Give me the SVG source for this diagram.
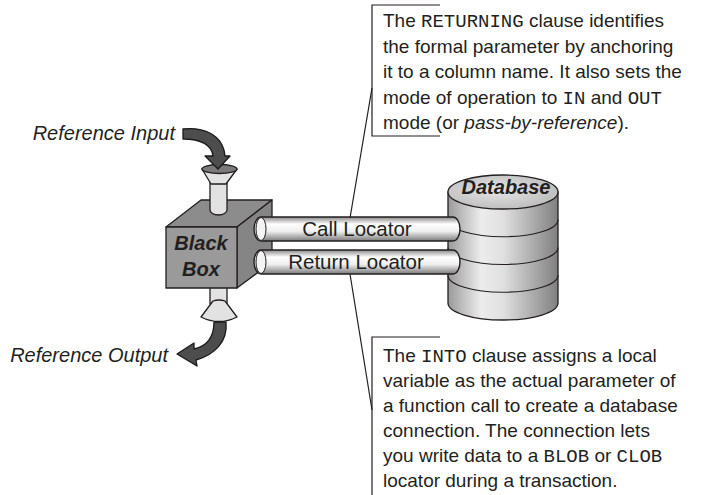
<svg xmlns="http://www.w3.org/2000/svg" width="708" height="495" viewBox="0 0 708 495">
  <defs>
    <linearGradient id="pipeGrad" x1="0" y1="0" x2="0" y2="1">
      <stop offset="0" stop-color="#8a8a8a"/>
      <stop offset="0.3" stop-color="#ffffff"/>
      <stop offset="0.6" stop-color="#eeeeee"/>
      <stop offset="1" stop-color="#7a7a7a"/>
    </linearGradient>
    <linearGradient id="drumGrad" x1="0" y1="0" x2="1" y2="0">
      <stop offset="0" stop-color="#9a9a9a"/>
      <stop offset="0.3" stop-color="#ececec"/>
      <stop offset="0.5" stop-color="#e0e0e0"/>
      <stop offset="1" stop-color="#808080"/>
    </linearGradient>
    <radialGradient id="lidGrad" cx="0.45" cy="0.45" r="0.7">
      <stop offset="0" stop-color="#e6e6e6"/>
      <stop offset="1" stop-color="#b4b4b4"/>
    </radialGradient>
  </defs>
  <style>
    .lbl { font-family: "Liberation Sans", Arial, sans-serif; fill: #231f20; }
    .it { font-style: italic; }
    .bi { font-style: italic; font-weight: bold; }
    .mono { font-family: "Liberation Mono", "Courier New", monospace; }
    .edge { fill: none; stroke: #231f20; stroke-width: 1.2; }
    .ol { stroke: #231f20; stroke-width: 1.3; stroke-linejoin: round; }
    .arrow { fill: #4d4d4d; stroke: #1a1a1a; stroke-width: 1.3; stroke-linejoin: round; }
    .pipe { fill: url(#pipeGrad); stroke: #231f20; stroke-width: 1.4; }
  </style>

  <!-- Black box with its input funnel and output bell -->
  <g id="blackbox">
    <!-- output stem below the cube -->
    <rect class="ol" x="210" y="286" width="17" height="18" fill="#e2e2e2"/>
    <!-- cube faces -->
    <polygon class="ol" points="166,227 201,200 272,200 237,227" fill="#8c8c8c"/>
    <polygon class="ol" points="237,227 272,200 272,262 237,288" fill="#858585"/>
    <rect class="ol" x="166" y="227" width="71" height="61" fill="#9a9a9a"/>
    <text class="lbl bi" x="201" y="250" font-size="20" text-anchor="middle">Black</text>
    <text class="lbl bi" x="201" y="276" font-size="20" text-anchor="middle">Box</text>
    <!-- input stem entering the top face -->
    <path class="ol" d="M210,180 L210,210 A8.5,5 0 0 0 227,210 L227,180 Z" fill="#e2e2e2"/>
    <!-- input funnel -->
    <path class="ol" d="M202,169 L211,184 L226,184 L237,169 Z" fill="#e2e2e2"/>
    <ellipse class="ol" cx="219.5" cy="169" rx="17.5" ry="4.5" fill="#7a7a7a"/>
    <!-- output bell -->
    <path class="ol" d="M213,301 Q219,299 225,301 L237,317 Q219,326 201,317 Z" fill="#e2e2e2"/>
  </g>

  <!-- Input / output labels with curved arrows -->
  <g id="reference-input">
    <text class="lbl it" x="175" y="140" font-size="20" text-anchor="end">Reference Input</text>
    <path class="arrow" d="M183,129 C203,127 223,134 225,156 L230,156 L218,169 L205,156 L213,156 C212,145 201,139 183,139 Z"/>
  </g>
  <g id="reference-output">
    <text class="lbl it" x="168" y="362" font-size="20" text-anchor="end">Reference Output</text>
    <path class="arrow" d="M226,322 C228,342 214,355 196,360 L197,366 L177,354 L194,343 L194,349 C207,346 214,337 214,322 Z"/>
  </g>

  <!-- Database drum -->
  <g id="database">
    <path class="ol" d="M448,192 L448,303 A55,17 0 0 0 558,303 L558,192 Z" fill="url(#drumGrad)"/>
    <path class="edge" d="M448,219.75 A55,17 0 0 0 558,219.75"/>
    <path class="edge" d="M448,247.5 A55,17 0 0 0 558,247.5"/>
    <path class="edge" d="M448,275.25 A55,17 0 0 0 558,275.25"/>
    <ellipse class="ol" cx="503" cy="192" rx="55" ry="17" fill="url(#lidGrad)"/>
    <text class="lbl bi" x="506" y="194" font-size="20" text-anchor="middle">Database</text>
  </g>

  <!-- Locator pipes between the black box and the database -->
  <g id="connectors">
    <g id="call-locator">
      <rect class="pipe" x="254" y="217" width="206" height="24" rx="7" ry="12"/>
      <ellipse cx="261" cy="229" rx="5" ry="11.5" fill="#f4f4f4" stroke="#231f20" stroke-width="1"/>
      <text class="lbl" x="357" y="236" font-size="20.5" text-anchor="middle">Call Locator</text>
    </g>
    <g id="return-locator">
      <rect class="pipe" x="254" y="250" width="206" height="24" rx="7" ry="12"/>
      <ellipse cx="261" cy="262" rx="5" ry="11.5" fill="#f4f4f4" stroke="#231f20" stroke-width="1"/>
      <text class="lbl" x="356" y="269" font-size="20.5" text-anchor="middle">Return Locator</text>
    </g>
    <!-- callout leaders -->
    <polyline class="edge" points="372,88 350,218"/>
    <polyline class="edge" points="350,274 372,410"/>
  </g>

  <!-- Upper callout -->
  <g id="callout-returning">
    <polyline class="edge" points="440,5 372,5 372,136 440,136"/>
    <text class="lbl" font-size="19" x="383">
      <tspan x="383" y="27">The <tspan class="mono">RETURNING</tspan> clause identifies</tspan>
      <tspan x="383" y="52.5">the formal parameter by anchoring</tspan>
      <tspan x="383" y="78">it to a column name. It also sets the</tspan>
      <tspan x="383" y="103.5">mode of operation to <tspan class="mono">IN</tspan> and <tspan class="mono">OUT</tspan></tspan>
      <tspan x="383" y="129">mode (or <tspan class="it">pass-by-reference</tspan>).</tspan>
    </text>
  </g>

  <!-- Lower callout -->
  <g id="callout-into">
    <polyline class="edge" points="440,337 372,337 372,495"/>
    <text class="lbl" font-size="19" x="383">
      <tspan x="383" y="362">The <tspan class="mono">INTO</tspan> clause assigns a local</tspan>
      <tspan x="383" y="387">variable as the actual parameter of</tspan>
      <tspan x="383" y="412">a function call to create a database</tspan>
      <tspan x="383" y="437">connection. The connection lets</tspan>
      <tspan x="383" y="462">you write data to a <tspan class="mono">BLOB</tspan> or <tspan class="mono">CLOB</tspan></tspan>
      <tspan x="383" y="487">locator during a transaction.</tspan>
    </text>
  </g>
</svg>
